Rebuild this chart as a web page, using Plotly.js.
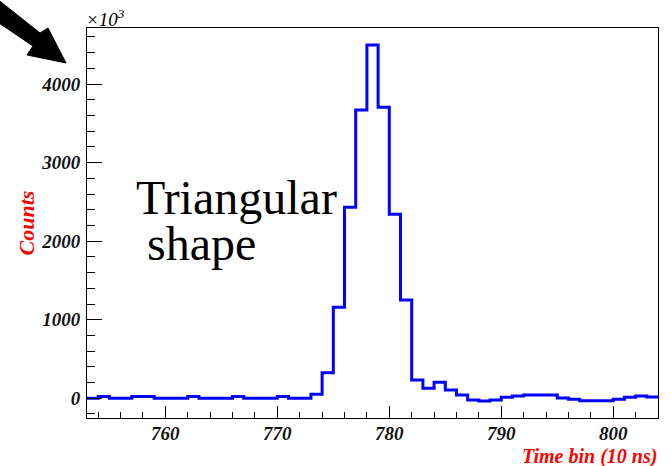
<!DOCTYPE html>
<html>
<head>
<meta charset="utf-8">
<script src="https://cdn.plot.ly/plotly-3.0.1.min.js"></script>
<style>html,body{margin:0;padding:0;background:#fff;}#chart{width:671px;height:466px;}</style>
</head>
<body>
<div id="chart"></div>
<script>
// Histogram: first bin low edge, bin width, counts per bin (units of 10^3)
const binStart = 753;
const binWidth = 1;
const counts = [
  0, 22, 0, 0, 22, 22, 0, 0, 0, 22,      // 753-762
  0, 0, 0, 22, 0, 0, 0, 22, 0, 0,        // 763-772
  51, 326, 1158, 2431, 3669, 4496, 3703, 2342, 1251, 233, // 773-782
  127, 203, 106, 42, -22, -34, -22, 13, 29, 42,           // 783-792
  42, 42, 4, -13, -30, -30, -30, -13, 13, 29,             // 793-802
  17                                                       // 803
];
const xTickVals = [760, 770, 780, 790, 800];
const yTickVals = [0, 1000, 2000, 3000, 4000];

const edges = [];
const yStep = [];
for (let i = 0; i < counts.length; i++) { edges.push(binStart + i * binWidth); yStep.push(counts[i]); }
edges.push(binStart + counts.length * binWidth);
yStep.push(counts[counts.length - 1]);

const L = 87, R = 658, T = 28, B = 418, W = 671, H = 466;
const px = x => (x - L) / (R - L);
const py = y => (B - y) / (B - T);
const arrowPts = [[-4, -2], [40, 33], [48, 28], [66, 63], [27, 55], [33, 46], [-4, 21]];
const arrowPath = 'M ' + arrowPts.map(p => px(p[0]).toFixed(4) + ',' + py(p[1]).toFixed(4)).join(' L ') + ' Z';

const serif = 'Liberation Serif, Times New Roman, serif';
const tickFont = {family: serif, size: 19, color: '#111', weight: 'bold', style: 'italic'};

const trace = {
  x: edges, y: yStep, type: 'scatter', mode: 'lines',
  line: {shape: 'hv', color: '#0000ff', width: 3},
  hoverinfo: 'skip'
};

const layout = {
  width: W, height: H,
  margin: {l: L, r: W - R, t: T, b: H - B, pad: 0},
  paper_bgcolor: '#fff', plot_bgcolor: '#fff',
  showlegend: false,
  xaxis: {
    range: [binStart, binStart + counts.length * binWidth],
    tickvals: xTickVals, ticktext: xTickVals.map(String),
    ticks: 'inside', ticklen: 12, tickwidth: 1, tickcolor: '#000',
    minor: {dtick: 2, tick0: 0, ticks: 'inside', ticklen: 6, tickwidth: 1, tickcolor: '#000', showgrid: false},
    showline: true, mirror: true, linecolor: '#000', linewidth: 1,
    showgrid: false, zeroline: false,
    tickfont: tickFont, ticklabelstandoff: -2
  },
  yaxis: {
    range: [-251, 4713],
    tickvals: yTickVals, ticktext: yTickVals.map(String),
    ticks: 'inside', ticklen: 15, tickwidth: 1, tickcolor: '#000',
    minor: {dtick: 200, tick0: 0, ticks: 'inside', ticklen: 8, tickwidth: 1, tickcolor: '#000', showgrid: false},
    showline: true, mirror: true, linecolor: '#000', linewidth: 1,
    showgrid: false, zeroline: false,
    tickfont: tickFont, ticklabelstandoff: 2,
    title: {text: 'Counts', font: {family: serif, size: 22, color: '#ff0000', weight: 'bold', style: 'italic'}, standoff: 0}
  },
  shapes: [
    {type: 'path', xref: 'paper', yref: 'paper', path: arrowPath, fillcolor: '#000', line: {color: '#000', width: 1}, layer: 'above'}
  ],
  annotations: [
    {xref: 'paper', yref: 'paper', x: px(84), y: py(18), xanchor: 'left', yanchor: 'middle', showarrow: false,
     text: '×10<sup>3</sup>', font: {family: serif, size: 19, color: '#000', style: 'italic'}},
    {xref: 'paper', yref: 'paper', x: px(659), y: py(456), xanchor: 'right', yanchor: 'middle', showarrow: false,
     text: 'Time bin (10 ns)', font: {family: serif, size: 20, color: '#ff0000', weight: 'bold', style: 'italic'}},
    {xref: 'paper', yref: 'paper', x: px(134), y: py(197), xanchor: 'left', yanchor: 'middle', showarrow: false,
     text: 'Triangular', font: {family: serif, size: 48, color: '#000'}},
    {xref: 'paper', yref: 'paper', x: px(145), y: py(243), xanchor: 'left', yanchor: 'middle', showarrow: false,
     text: 'shape', font: {family: serif, size: 48, color: '#000'}}
  ]
};

Plotly.newPlot('chart', [trace], layout, {displayModeBar: false, staticPlot: true});
</script>
</body>
</html>
